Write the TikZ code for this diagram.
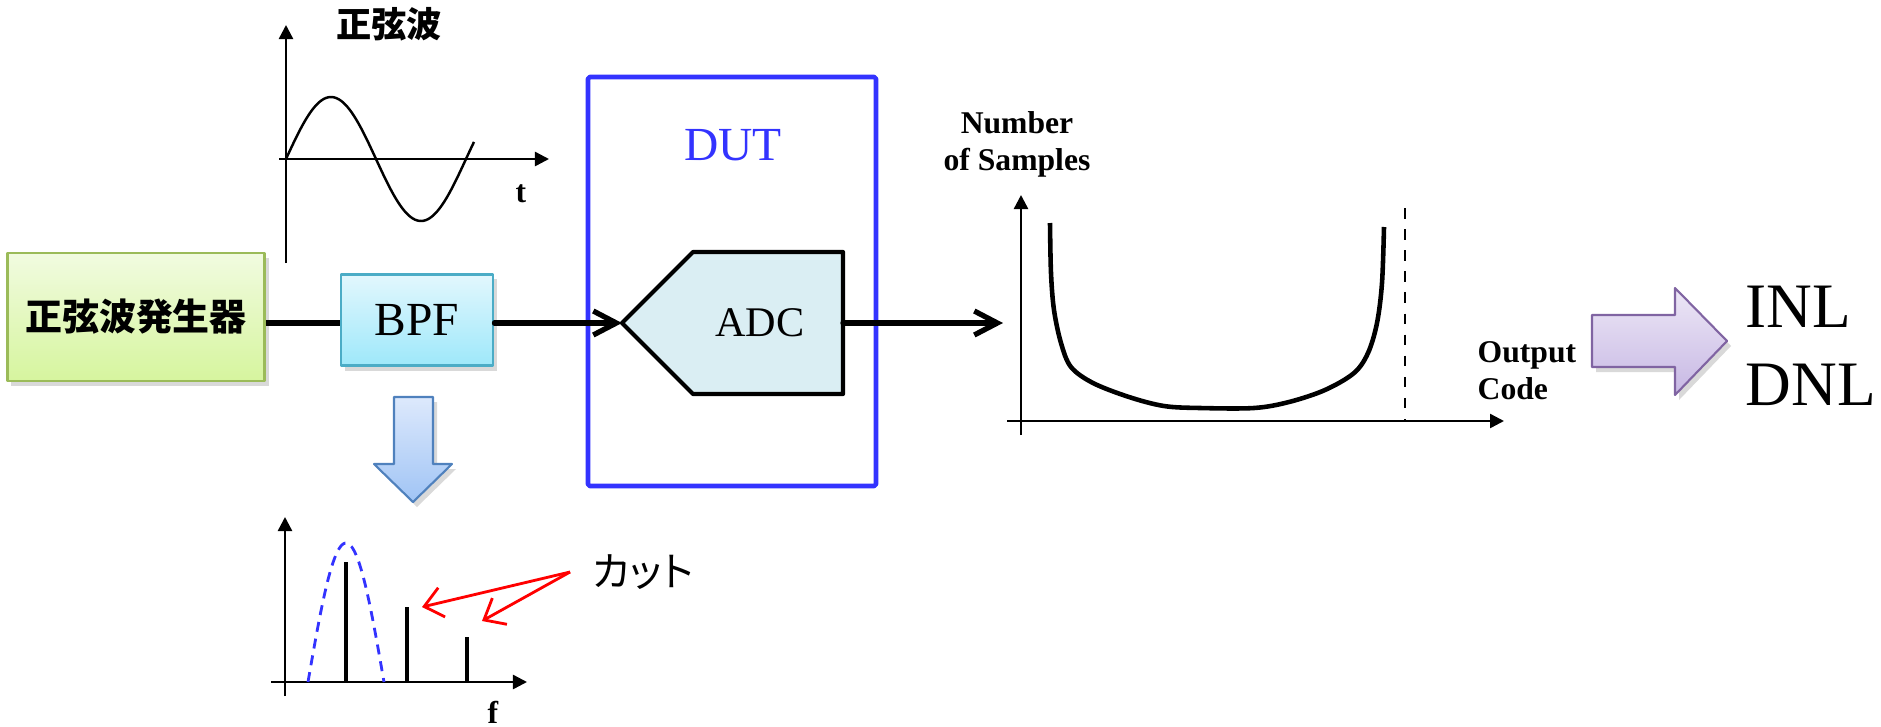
\documentclass[tikz,border=0pt]{standalone}
\usepackage{fontspec}
\setmainfont{Liberation Serif}
\newfontfamily\jpfont{Noto Sans CJK JP}
\newfontfamily\jpkana[RawFeature=+palt]{Noto Sans CJK JP}
\usetikzlibrary{arrows.meta,shadows}
\definecolor{dutblue}{RGB}{51,51,255}
\definecolor{gentop}{RGB}{241,251,224}
\definecolor{genbot}{RGB}{214,245,158}
\definecolor{genedge}{RGB}{155,187,89}
\definecolor{bpftop}{RGB}{226,247,253}
\definecolor{bpfbot}{RGB}{158,232,250}
\definecolor{bpfedge}{RGB}{75,172,198}
\definecolor{adcfill}{RGB}{218,238,243}
\definecolor{dwntop}{RGB}{221,233,252}
\definecolor{dwnbot}{RGB}{160,196,245}
\definecolor{dwnedge}{RGB}{79,129,189}
\definecolor{outtop}{RGB}{237,231,246}
\definecolor{outbot}{RGB}{199,184,228}
\definecolor{outedge}{RGB}{128,100,162}
\begin{document}
\begin{tikzpicture}[x=0.01cm, y=-0.01cm, line join=round,
    axis/.style={line width=0.7pt, -{Triangle[length=1.4mm,width=1.4mm]}},
    sig/.style={line width=1.5pt, line cap=round, -{Straight Barb[length=2.3mm,width=2.4mm]}},
    cutarrow/.style={red, line width=0.8pt, -{Straight Barb[length=1.8mm,width=3mm]}},
    lbl/.style={font=\bfseries\fontsize{9}{10.5}\selectfont, inner sep=0pt},
    soft/.style={drop shadow={shadow xshift=0.4mm, shadow yshift=-0.5mm, opacity=0.3}},
    blockbox/.style={draw, line width=0.8pt, soft, inner sep=0pt}]
  \useasboundingbox (0,0) rectangle (1881,727);

  % source, filter, converter
  \node[blockbox, draw=genedge, top color=gentop, bottom color=genbot,
        minimum width=25.7mm, minimum height=12.8mm,
        font=\jpfont\bfseries\fontsize{10.5}{12}\selectfont] (gen) at (136,317) {正弦波発生器};
  \node[blockbox, draw=bpfedge, top color=bpftop, bottom color=bpfbot,
        minimum width=15.2mm, minimum height=9.1mm,
        font=\fontsize{13.5}{15}\selectfont] (bpf) at (417,320) {BPF};
  \draw[dutblue, line width=1.3pt, rounded corners=0.5pt] (588,77) rectangle (876,486);
  \node[dutblue, font=\fontsize{13.5}{15}\selectfont] (dut) at (733,145) {DUT};
  \coordinate (adcin) at (622,323);
  \coordinate (adcout) at (843,323);
  \draw[line width=1.2pt, fill=adcfill] (adcin) -- (693,252) -- (843,252) -- (843,394) -- (693,394) -- cycle;
  \node[font=\fontsize{12}{14}\selectfont] (adc) at (760,323) {ADC};
  \coordinate (histin) at (1003,323);
  \draw[line width=1.5pt] (gen.east |- adcin) -- (bpf.west |- adcin);
  \draw[sig] (bpf.east |- adcin) -- (adcin);
  \draw[sig] (adcout) -- (histin);

  % sine input
  \node[font=\jpfont\bfseries\fontsize{10}{12}\selectfont] (sinetitle) at (389,24) {正弦波};
  \draw[axis] (286,263) -- (286,25);
  \draw[axis] (279,159) -- (549,159);
  \draw[line width=0.7pt] plot[domain=0:376, samples=90, smooth] ({286+\x/2},{159-62*sin(\x)});
  \node[lbl] (tlabel) at (521,194) {t};

  % spectrum after the filter
  \draw[soft, draw=dwnedge, line width=0.6pt, top color=dwntop, bottom color=dwnbot]
    (394,397) -- (433,397) -- (433,464) -- (452,464) -- (413,502) -- (374,464) -- (394,464) -- cycle;
  \draw[axis] (285,696) -- (285,517);
  \draw[axis] (271,682) -- (527,682);
  \foreach \bx/\by in {346/562, 407/607, 467/637}
    \draw[line width=1.1pt] (\bx,682) -- (\bx,\by);
  \draw[dutblue, line width=0.8pt, dash pattern=on 1mm off 0.7mm]
    plot[domain=308:384, samples=50] (\x,{682-139*cos(90*(\x-346)/38)});
  \node[lbl] (flabel) at (493,712) {f};
  \node[font=\jpkana\fontsize{11.5}{13}\selectfont, inner sep=0pt] (cut) at (643,572) {カット};
  \coordinate (cuta) at (422,607);
  \coordinate (cutb) at (482,621);
  \draw[cutarrow] ([xshift=-2.2mm]cut.west) -- (cuta);
  \draw[cutarrow] ([xshift=-2.2mm]cut.west) -- (cutb);

  % code histogram
  \node[lbl, align=center] (nsamp) at (1017,144) {Number\\of Samples};
  \draw[axis] (1021,435) -- (1021,195);
  \draw[axis] (1007,421) -- (1504,421);
  \draw[dashed, line width=0.7pt] (1405,208) -- (1405,421);
  \draw[line width=1.3pt] plot[smooth, tension=0.55] coordinates {
    (1050,223) (1051,273) (1054,310) (1061,343) (1071,367) (1093,383) (1129,397)
    (1164,406) (1200,408) (1254,408) (1289,402) (1325,390) (1354,373) (1368,353)
    (1377,323) (1382,283) (1384,227)};
  \node[lbl, align=left, anchor=west] (ocode) at (1477,371) {Output\\Code};

  % result
  \draw[soft, draw=outedge, line width=0.6pt, top color=outtop, bottom color=outbot]
    (1592,315) -- (1675,315) -- (1675,288) -- (1727,341) -- (1675,395) -- (1675,367) -- (1592,367) -- cycle;
  \node[font=\fontsize{18}{22}\selectfont, align=left, anchor=west, inner sep=0pt] (nl) at (1745,346) {INL\\DNL};
\end{tikzpicture}
\end{document}
